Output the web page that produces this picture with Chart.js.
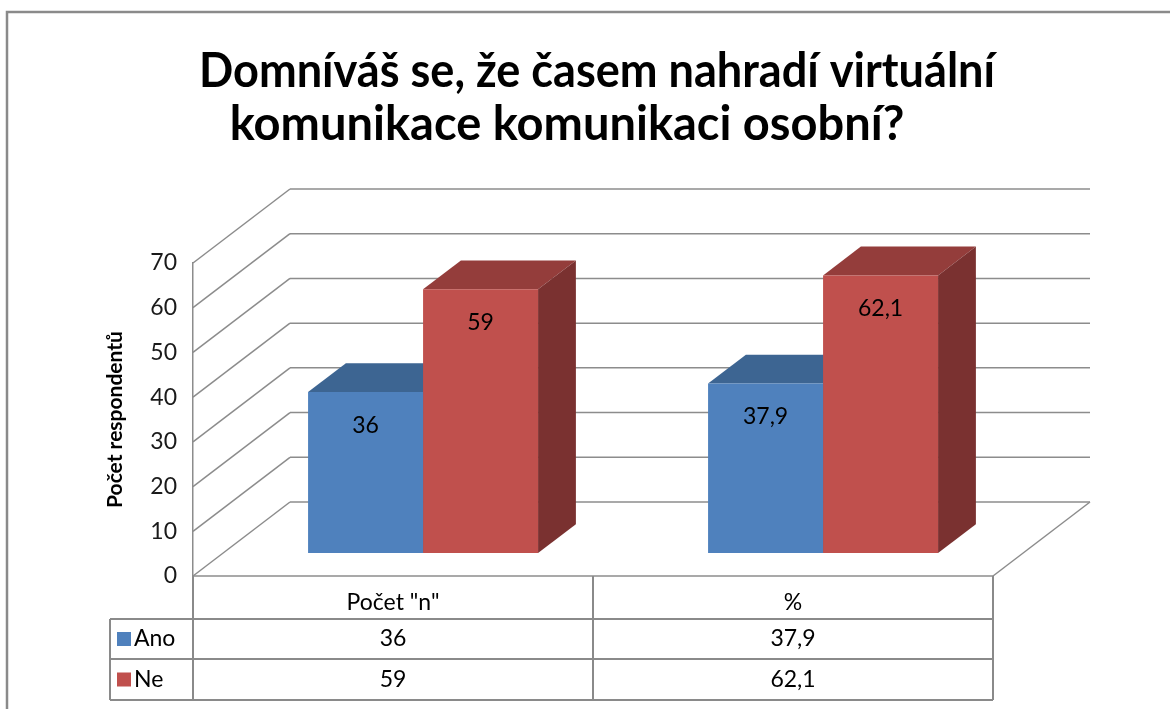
<!DOCTYPE html>
<html>
<head>
<meta charset="utf-8">
<script src="https://cdn.jsdelivr.net/npm/chart.js@4.4.1/dist/chart.umd.min.js"></script>
<style>
    html, body { margin: 0; padding: 0; background: #fff; }
    #wrap { width: 1170px; height: 709px; }
</style>
</head>
<body>
<div id="wrap"><canvas id="surveyChart" width="1170" height="709"></canvas></div>
<script>
// Change Label & Data Set Here
var titleLines = ['Domníváš se, že časem nahradí virtuální', 'komunikace komunikaci osobní?'];
var categories = ['Počet "n"', '%'];
var seriesNames = ['Ano', 'Ne'];
var anoValues = [36, 37.9];
var neValues = [59, 62.1];
var yMax = 70;
var yStep = 10;
var yTitle = 'Počet respondentů';

var FONT = 'Lato, "Liberation Sans", sans-serif';
var GRID = '#8c8c8c';

// depth of the 3D box and where the bars sit inside it
var depth = { x: 97, y: -74 };
var barFront = 0.31;
var barBack = 0.70;

var colors = {
    Ano: { front: '#4F81BD', top: '#3D6592', side: '#2F5077' },
    Ne: { front: '#C0504D', top: '#943D3B', side: '#7A3130' }
};

function fmt(v) {
    return String(v).replace('.', ',');
}

function line(ctx, x1, y1, x2, y2) {
    ctx.beginPath();
    ctx.moveTo(x1, y1);
    ctx.lineTo(x2, y2);
    ctx.stroke();
}

/**
 * Walls, floor, title, data table and the 3D faces of the bars
 */
const box3d = {
    id: 'box3d',
    beforeDraw(chart) {
        const ctx = chart.ctx;
        ctx.save();
        ctx.fillStyle = '#fff';
        ctx.fillRect(0, 0, chart.width, chart.height);
        // outer frame, runs off the right and bottom edge
        ctx.strokeStyle = '#8a8a8a';
        ctx.lineWidth = 2.5;
        ctx.strokeRect(7, 12, chart.width + 20, chart.height + 20);
        // title
        ctx.fillStyle = '#000';
        ctx.font = 'bold 47px ' + FONT;
        ctx.textAlign = 'center';
        ctx.textBaseline = 'alphabetic';
        ctx.fillText(titleLines[0], 597, 87, 796);
        ctx.fillText(titleLines[1], 567, 140, 706);
        ctx.restore();
    },
    beforeDatasetsDraw(chart) {
        const ctx = chart.ctx;
        const area = chart.chartArea;
        const yScale = chart.scales.y;
        ctx.save();
        ctx.strokeStyle = GRID;
        ctx.lineWidth = 1.5;
        // side wall diagonals + back wall lines
        for (let v = 0; v <= yMax; v += yStep) {
            const yf = yScale.getPixelForValue(v);
            line(ctx, area.left, yf, area.left + depth.x, yf + depth.y);
            line(ctx, area.left + depth.x, yf + depth.y, area.right + depth.x, yf + depth.y);
        }
        // floor front and right edge
        line(ctx, area.left, area.bottom, area.right, area.bottom);
        line(ctx, area.right, area.bottom, area.right + depth.x, area.bottom + depth.y);

        // data table
        const xScale = chart.scales.x;
        const rowTop = [area.bottom, 619, 659, 700];
        const legendLeft = 110;
        const half = (xScale.getPixelForValue(1) - xScale.getPixelForValue(0)) / 2;
        const colEdges = [area.left];
        for (let i = 0; i < categories.length; i++) {
            colEdges.push(xScale.getPixelForValue(i) + half);
        }
        ctx.lineWidth = 2;
        ctx.strokeStyle = '#8a8a8a';
        colEdges.forEach(x => line(ctx, x, rowTop[0], x, rowTop[3]));
        line(ctx, legendLeft, rowTop[1], legendLeft, rowTop[3]);
        for (let r = 1; r < rowTop.length; r++) {
            line(ctx, legendLeft, rowTop[r], area.right, rowTop[r]);
        }
        const rows = [anoValues, neValues];
        ctx.font = '23px ' + FONT;
        ctx.textBaseline = 'middle';
        rows.forEach((vals, r) => {
            const cy = (rowTop[r + 1] + rowTop[r + 2]) / 2;
            ctx.fillStyle = colors[seriesNames[r]].front;
            ctx.fillRect(117, cy - 7, 14, 14);
            ctx.fillStyle = '#000';
            ctx.textAlign = 'left';
            ctx.fillText(seriesNames[r], 134, cy);
            ctx.textAlign = 'center';
            vals.forEach((v, i) => {
                ctx.fillText(fmt(v), xScale.getPixelForValue(i), cy);
            });
        });
        ctx.restore();

        // bars sit inside the box, shifted back from the front plane
        ctx.save();
        ctx.translate(depth.x * barFront, depth.y * barFront);

        // top + side faces of every bar first, the front faces cover them after
        const sx = depth.x * (barBack - barFront);
        const sy = depth.y * (barBack - barFront);
        chart.data.datasets.forEach((ds, di) => {
            const name = seriesNames[di];
            chart.getDatasetMeta(di).data.forEach(bar => {
                const p = bar.getProps(['x', 'y', 'base', 'width'], true);
                const l = p.x - p.width / 2;
                const r = p.x + p.width / 2;
                ctx.fillStyle = colors[name].top;
                ctx.beginPath();
                ctx.moveTo(l, p.y);
                ctx.lineTo(r, p.y);
                ctx.lineTo(r + sx, p.y + sy);
                ctx.lineTo(l + sx, p.y + sy);
                ctx.closePath();
                ctx.fill();
                ctx.fillStyle = colors[name].side;
                ctx.beginPath();
                ctx.moveTo(r, p.y);
                ctx.lineTo(r + sx, p.y + sy);
                ctx.lineTo(r + sx, p.base + sy);
                ctx.lineTo(r, p.base);
                ctx.closePath();
                ctx.fill();
            });
        });
    },
    afterDatasetsDraw(chart) {
        const ctx = chart.ctx;
        // value labels inside the bars
        ctx.fillStyle = '#000';
        ctx.font = '23px ' + FONT;
        ctx.textAlign = 'center';
        ctx.textBaseline = 'middle';
        chart.data.datasets.forEach((ds, di) => {
            chart.getDatasetMeta(di).data.forEach((bar, i) => {
                const p = bar.getProps(['x', 'y'], true);
                ctx.fillText(fmt(ds.data[i]), p.x, p.y + 33);
            });
        });
        ctx.restore();
    }
};

const surveyChart = new Chart(document.getElementById('surveyChart'), {
    type: 'bar',
    data: {
        labels: categories,
        datasets: [{
            label: seriesNames[0],
            data: anoValues,
            backgroundColor: colors.Ano.front,
            borderWidth: 0,
            clip: false
        }, {
            label: seriesNames[1],
            data: neValues,
            backgroundColor: colors.Ne.front,
            borderWidth: 0,
            clip: false
        }]
    },
    options: {
        responsive: false,
        animation: false,
        devicePixelRatio: 1,
        categoryPercentage: 0.575,
        barPercentage: 1.0,
        layout: {
            padding: { left: 98, top: 263, right: 177, bottom: 0 }
        },
        plugins: {
            legend: { display: false },
            tooltip: { enabled: false },
            title: { display: false }
        },
        scales: {
            x: {
                grid: { display: false, drawTicks: false },
                border: { display: false },
                ticks: {
                    color: '#000',
                    font: { family: FONT, size: 23 },
                    padding: 13
                },
                afterFit(scale) { scale.height = 133; }
            },
            y: {
                min: 0,
                max: yMax,
                grid: { display: false, drawTicks: false },
                border: { display: true, color: GRID, width: 1.5 },
                ticks: {
                    stepSize: yStep,
                    color: '#1a1a1a',
                    font: { family: FONT, size: 23 },
                    padding: 16
                },
                title: {
                    display: true,
                    text: yTitle,
                    color: '#000',
                    font: { family: FONT, size: 21, weight: 'bold' },
                    padding: { top: 5, bottom: 0 }
                },
                afterFit(scale) { scale.width = 95; }
            }
        }
    },
    plugins: [box3d]
});
</script>
</body>
</html>
